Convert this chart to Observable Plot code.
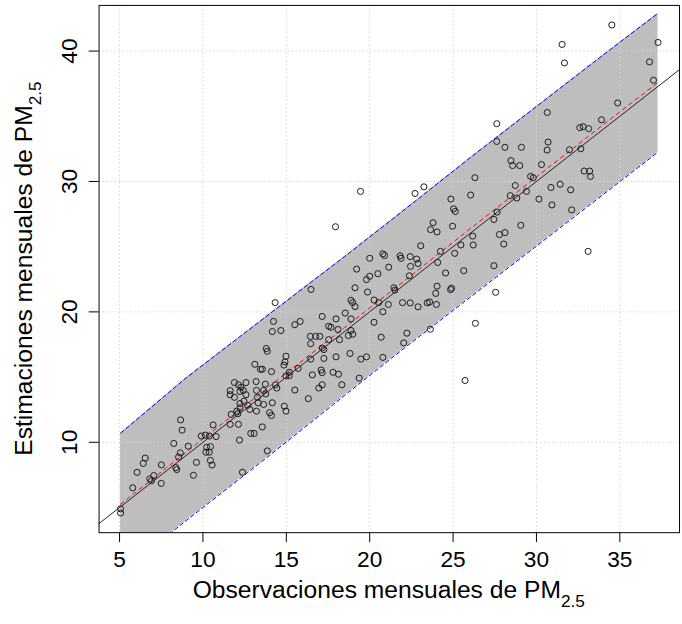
<!DOCTYPE html>
<html><head><meta charset="utf-8">
<script src="https://cdn.jsdelivr.net/npm/d3@7"></script>
<script src="https://cdn.jsdelivr.net/npm/@observablehq/plot@0.6"></script>
<style>
html,body{margin:0;padding:0;background:#fff;overflow:hidden;width:682px;height:624px}
#chart svg{display:block}
</style></head><body><div id="chart"></div>
<script>
// Observed monthly PM2.5 (x) and estimated monthly PM2.5 (y)
const obs = [
5.06,5.06,5.79,6.05,6.42,6.54,6.81,6.91,7.05,7.50,7.51,8.37,8.43,8.25,8.64,8.54,8.66,8.75,9.12,9.61,9.43,9.90,10.14,10.38,10.79,10.61,10.22,10.45,10.18,10.38,10.45,10.55,
20.00,19.22,19.81,20.00,20.49,19.12,19.87,16.48,14.33,18.88,18.98,19.12,20.26,20.54,18.53,17.15,17.98,18.88,20.26,14.23,15.51,15.83,17.54,17.68,18.10,14.16,
14.67,16.44,16.76,17.01,17.54,18.19,18.72,18.98,18.88,20.69,16.46,17.15,17.25,13.80,13.86,18.82,17.98,19.81,19.47,14.98,14.92,14.86,16.46,17.25,13.11,13.45,
13.56,14.11,15.71,15.18,14.98,15.18,17.09,17.15,16.56,17.80,18.13,19.37,11.89,12.13,12.58,13.19,13.74,14.35,14.43,12.28,11.63,12.22,12.42,13.21,13.64,15.51,
17.15,16.95,18.33,11.63,11.89,12.58,13.27,13.76,12.46,12.22,13.31,14.16,16.32,12.22,12.68,12.03,12.81,13.64,14.88,14.98,13.21,14.00,14.11,11.69,12.09,11.63,
12.13,13.56,12.87,13.07,12.19,13.86,12.37,
19.45,17.95,22.72,23.25,24.87,25.03,25.13,26.05,23.80,23.65,24.04,24.97,23.06,20.79,20.89,21.82,21.88,22.43,22.82,22.90,22.45,21.14,24.08,24.24,25.10,
25.47,26.18,26.21,24.55,25.64,22.38,21.45,21.51,24.04,23.96,24.85,24.91,21.97,22.43,22.90,23.45,23.59,24.00,20.79,21.12,23.64,22.23,22.04,20.79,25.72,
28.73,29.40,28.43,28.82,30.87,31.42,32.05,30.15,30.93,32.11,27.64,27.45,29.06,28.11,27.78,28.04,27.45,27.55,33.10,26.34,
34.52,31.54,31.68,37.29,36.78,37.02,34.87,30.65,27.62,27.62,28.11,29.10,33.90,32.60,32.80,33.13,30.70,30.64,31.98,32.66,
28.47,28.57,29.00,30.30,29.65,29.81,32.86,33.19,33.24,26.31
];
const est = [
4.90,4.58,6.51,7.70,8.38,8.79,7.20,7.05,7.45,6.85,8.27,8.06,7.91,9.91,9.19,8.87,11.72,10.93,9.70,8.46,7.47,10.48,10.55,10.48,10.44,11.33,9.62,9.67,9.24,9.24,8.61,8.26,
24.11,23.28,22.48,22.73,22.93,21.85,21.52,21.72,20.71,20.89,20.71,20.41,20.91,20.71,19.91,19.65,19.46,19.46,19.20,19.27,19.02,19.27,18.90,18.82,18.65,18.49,
18.57,18.12,18.12,18.12,17.87,17.87,18.19,18.29,18.57,18.06,17.56,17.23,17.11,17.19,16.98,16.81,16.55,16.55,16.38,16.60,16.17,15.92,16.38,16.43,15.98,15.60,
15.60,15.42,15.67,15.37,15.09,15.11,15.54,15.34,15.17,15.37,15.22,14.92,14.58,14.41,14.58,14.66,14.46,14.41,14.16,14.21,13.96,13.90,13.98,13.98,13.98,14.01,
14.41,14.16,14.41,13.65,13.45,13.65,13.45,13.71,13.15,12.97,13.03,13.03,13.35,12.65,12.84,12.39,12.52,12.90,12.77,12.39,12.39,12.27,12.06,12.14,12.19,11.38,
11.38,11.18,10.68,10.68,10.17,9.34,7.70,
29.24,26.53,29.08,29.59,28.65,27.90,27.70,28.96,26.84,26.31,26.13,26.57,25.07,24.45,24.32,24.30,24.11,24.24,24.05,23.71,23.49,23.43,23.79,24.64,24.49,
25.13,25.81,25.13,22.98,23.16,22.77,21.85,21.67,21.97,21.42,21.71,21.82,20.71,20.69,20.39,20.69,20.76,20.57,20.01,20.57,18.67,18.37,17.62,16.51,14.74,
29.69,29.24,28.91,28.73,29.54,29.79,29.36,28.65,28.20,27.82,27.65,27.09,26.64,26.08,25.93,25.20,23.54,21.50,24.64,19.12,
42.00,40.51,39.09,40.66,39.17,37.76,36.02,35.29,34.43,33.07,32.62,32.62,34.73,34.13,34.20,34.05,33.02,32.41,32.43,32.51,
31.60,31.22,31.22,31.30,30.39,30.29,30.80,30.80,30.39,30.29
];
// Fitted line and prediction band
const bandX  = [5.06, 9, 14, 18.5, 22, 26, 30, 34, 37.29];
const fitY   = [5.25, 9.25, 14.3, 18.8, 22.3, 26.35, 30.35, 34.35, 37.6];
const upperY = [10.7, 14.95, 19.85, 24.25, 27.75, 31.8, 35.75, 39.7, 42.9];
const lowerY = [0.0, 4.0, 9.0, 13.6, 17.15, 21.1, 25.05, 29.0, 32.25];
// 1:1 reference line
const identityVals = [0, 50];
// Axis ticks
const xTicks = [5, 10, 15, 20, 25, 30, 35];
const yTicks = [10, 20, 30, 40];
const xTitle = "Observaciones mensuales de PM";
const yTitle = "Estimaciones mensuales de PM";
const subText = "2.5";

const n = Math.min(obs.length, est.length);
const points = d3.range(n).map(i => ({x: obs[i], y: est[i]}));
const band = bandX.map((x, i) => ({x, fit: fitY[i], lo: lowerY[i], hi: upperY[i]}));
const ident = identityVals.map(v => ({v}));
const font = "'Liberation Sans', Arial, sans-serif";

const plot = Plot.plot({
  width: 692, height: 624,
  marginLeft: 100, marginRight: 3, marginTop: 5, marginBottom: 84,
  x: {domain: [3.77, 38.58]},
  y: {domain: [3.07, 43.5]},
  style: {fontFamily: font, background: "#fff", color: "#000", overflow: "visible"},
  marks: [
    Plot.areaY(band, {x: "x", y1: "lo", y2: "hi", fill: "#bebebe", clip: true}),
    Plot.gridX(xTicks, {stroke: "#d3d3d3", strokeOpacity: 1, strokeDasharray: "1.5,2.5"}),
    Plot.gridY(yTicks, {stroke: "#d3d3d3", strokeOpacity: 1, strokeDasharray: "1.5,2.5"}),
    Plot.line(band, {x: "x", y: "hi", stroke: "#0000ff", strokeWidth: 1, strokeDasharray: "4,3", clip: true}),
    Plot.line(band, {x: "x", y: "lo", stroke: "#0000ff", strokeWidth: 1, strokeDasharray: "4,3", clip: true}),
    Plot.line(ident, {x: "v", y: "v", stroke: "#222", strokeWidth: 1, clip: true}),
    Plot.line(band, {x: "x", y: "fit", stroke: "#ff0000", strokeWidth: 1, strokeDasharray: "4,4"}),
    Plot.dot(points, {x: "x", y: "y", r: 3.1, stroke: "#1a1a1a", fill: "none", strokeWidth: 1}),
    Plot.frame({stroke: "#000", strokeWidth: 1}),
    Plot.axisX(xTicks, {tickSize: 10, tickPadding: 9, fontSize: 23, label: null}),
    Plot.axisY(yTicks, {tickSize: 10, tickPadding: 12, tickRotate: -90, fontSize: 23, label: null})
  ]
});
document.getElementById("chart").appendChild(plot);

const svg = d3.select(plot);
const xt = svg.append("text")
  .attr("x", 394.5).attr("y", 607)
  .attr("text-anchor", "middle")
  .attr("font-family", font).attr("font-size", 25).attr("fill", "#000");
xt.append("tspan").text(xTitle);
xt.append("tspan").attr("font-size", 17.5).attr("dy", 9).text(subText);

const yt = svg.append("text")
  .attr("transform", "translate(32.5,272.5) rotate(-90)")
  .attr("text-anchor", "middle")
  .attr("font-family", font).attr("font-size", 25).attr("fill", "#000");
yt.append("tspan").text(yTitle);
yt.append("tspan").attr("font-size", 17.5).attr("dy", 9).text(subText);
</script></body></html>
